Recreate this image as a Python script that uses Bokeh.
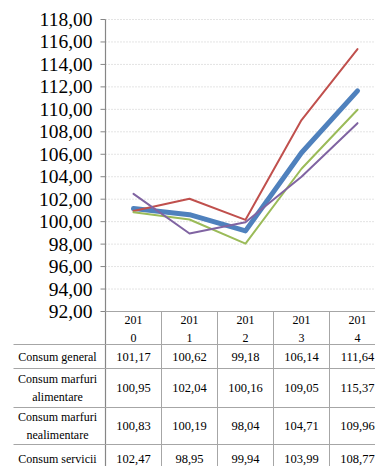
from bokeh.plotting import figure
from bokeh.models import Range1d
from bokeh.core.properties import value
from bokeh.embed import file_html
from bokeh.resources import INLINE

# ---------------- data ----------------
years = ["2010", "2011", "2012", "2013", "2014"]
year_labels = ["201\n0", "201\n1", "201\n2", "201\n3", "201\n4"]
row_labels = ["Consum general", "Consum marfuri\nalimentare",
              "Consum marfuri\nnealimentare", "Consum servicii"]
consum_general = [101.17, 100.62, 99.18, 106.14, 111.64]
marfuri_alimentare = [100.95, 102.04, 100.16, 109.05, 115.37]
marfuri_nealimentare = [100.83, 100.19, 98.04, 104.71, 109.96]
consum_servicii = [102.47, 98.95, 99.94, 103.99, 108.77]
y_ticks = [92, 94, 96, 98, 100, 102, 104, 106, 108, 110, 112, 114, 116, 118]
y_tick_labels = ["92,00", "94,00", "96,00", "98,00", "100,00", "102,00", "104,00",
                 "106,00", "108,00", "110,00", "112,00", "114,00", "116,00", "118,00"]

series = [consum_general, marfuri_alimentare, marfuri_nealimentare, consum_servicii]
colors = ["#4F81BD", "#C0504D", "#9BBB59", "#8064A2"]
widths = [5, 2, 2, 2]

# ---------------- layout constants (pixels) ----------------
W, H = 375, 466
LEFT, TOP = 105, 19
Y0_PX = 311
COL_W = 56
ymin, ymax = y_ticks[0], y_ticks[-1]
px_per_unit = (Y0_PX - TOP) / (ymax - ymin)
y_top = ymax + TOP / px_per_unit
y_bottom = ymax - (H - TOP) / px_per_unit
row_bounds = [344, 368, 407, 444, 470]
TABLE_LEFT = 13
GRID = "#A6A6A6"
AXIS = "#868686"
FONT = "Liberation Serif"

n = len(years)
xc = [i + 0.5 for i in range(n)]
x_left = -LEFT / COL_W
x_tab_left = (TABLE_LEFT - LEFT) / COL_W

p = figure(width=W, height=H, output_backend="svg", toolbar_location=None,
           x_range=Range1d(x_left, (W - LEFT) / COL_W), y_range=Range1d(y_bottom, y_top),
           min_border=0, x_axis_location=None, y_axis_location=None)
p.extra_y_ranges = {"px": Range1d(start=H, end=0)}
p.outline_line_color = None
p.grid.visible = False

# ---------------- value axis (drawn with the figure's scales) ----------------
grid_ticks = y_ticks[1:]
p.segment(x0=[0] * len(grid_ticks), y0=grid_ticks, x1=[(W - LEFT) / COL_W] * len(grid_ticks),
          y1=grid_ticks, line_color="#C8C8C8", line_dash="1 2", line_width=1)
p.segment(x0=[-5 / COL_W] * len(y_ticks), y0=y_ticks, x1=[0] * len(y_ticks), y1=y_ticks,
          line_color=AXIS, line_width=1)
p.segment(x0=[0], y0=[ymax], x1=[0], y1=[y_bottom], line_color=AXIS, line_width=1.2)
p.text(x=[-13 / COL_W] * len(y_ticks), y=y_ticks, text=y_tick_labels,
       text_font=value(FONT), text_font_size="19.5px", text_align="right",
       text_baseline="middle", text_color="#000000")

# ---------------- series ----------------
for vals, c, w in zip(series, colors, widths):
    p.line(xc, vals, line_color=c, line_width=w, line_join="round", line_cap="round")

# ---------------- table ----------------
vx = [float(i) for i in range(1, n + 1)]
p.segment(x0=vx, y0=[Y0_PX] * n, x1=vx, y1=[H] * n, y_range_name="px",
          line_color=GRID, line_width=1)
p.segment(x0=[0], y0=[Y0_PX], x1=[n], y1=[Y0_PX], y_range_name="px",
          line_color=GRID, line_width=1)
hl = row_bounds[:-1]
p.segment(x0=[x_tab_left] * len(hl), y0=hl, x1=[float(n)] * len(hl), y1=hl,
          y_range_name="px", line_color=GRID, line_width=1)

p.text(x=xc, y=[(Y0_PX + row_bounds[0]) / 2 + 1] * n, text=year_labels, y_range_name="px",
       text_font=value(FONT), text_font_size="12px", text_align="center",
       text_baseline="middle", text_color="#000000", text_line_height=1.25)

centers = [(row_bounds[i] + row_bounds[i + 1]) / 2 for i in range(len(series))]
centers[-1] = 458
cx, cy, ct = [], [], []
for r, vals in enumerate(series):
    for i, v in enumerate(vals):
        cx.append(xc[i])
        cy.append(centers[r])
        ct.append(f"{v:.2f}".replace(".", ","))
p.text(x=cx, y=cy, text=ct, y_range_name="px", text_font=value(FONT),
       text_font_size="12.5px", text_align="center", text_baseline="middle",
       text_color="#000000")

p.text(x=[((TABLE_LEFT + LEFT) / 2 - 2 - LEFT) / COL_W] * len(row_labels), y=centers,
       text=row_labels, y_range_name="px", text_font=value(FONT),
       text_font_size="12px", text_align="center", text_baseline="middle",
       text_color="#000000", text_line_height=1.3)

open("out.html", "w").write(file_html(p, INLINE))
